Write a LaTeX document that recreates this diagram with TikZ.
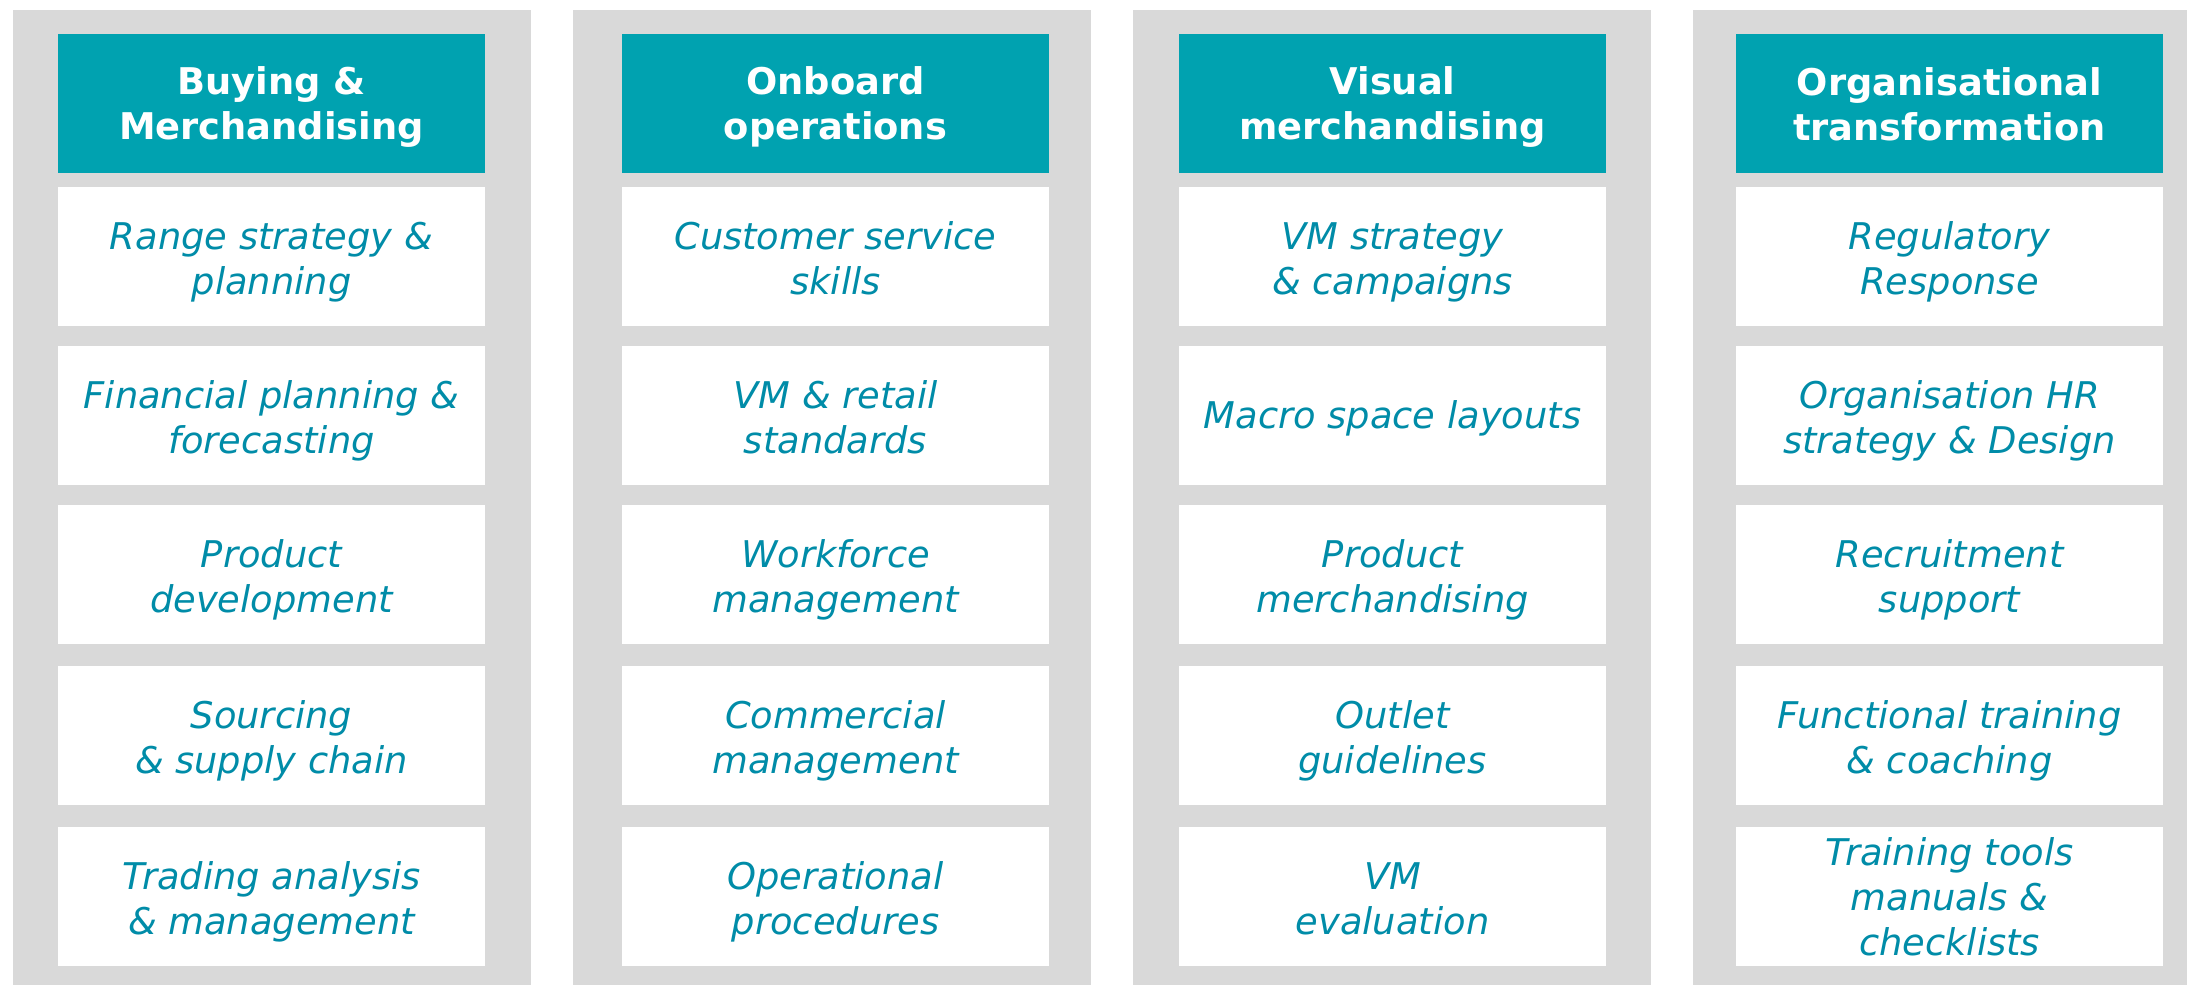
\documentclass[tikz,border=0pt]{standalone}
\usepackage{fontspec}
\setmainfont{DejaVu Sans}
\definecolor{headteal}{RGB}{0,162,176}
\definecolor{panelgray}{RGB}{217,217,217}
\definecolor{itemtext}{RGB}{0,140,168}
\begin{document}
\begin{tikzpicture}[x=0.5pt,y=-0.5pt,
  panel/.style={fill=panelgray, draw=none},
  cellbox/.style={minimum width=213.5pt, minimum height=69.5pt, inner sep=0pt},
  headbox/.style={cellbox, fill=headteal},
  itembox/.style={cellbox, fill=white},
  headlbl/.style={text=white, inner sep=0pt, align=center, font=\fontsize{18.4}{22.5}\selectfont\bfseries},
  itemlbl/.style={text=itemtext, inner sep=0pt, align=center, font=\fontsize{18.4}{22.5}\selectfont\itshape}]
\useasboundingbox (0,0) rectangle (2187,985);
% panels
\fill[panel] (13,10) rectangle (531,985);
\fill[panel] (573,10) rectangle (1091,985);
\fill[panel] (1133,10) rectangle (1651,985);
\fill[panel] (1693,10) rectangle (2187,985);
% column 1
\node[headbox] (h1) at (271.5,103.5) {};
\node[itembox] (a1) at (271.5,256.5) {};
\node[itembox] (a2) at (271.5,415.5) {};
\node[itembox] (a3) at (271.5,574.5) {};
\node[itembox] (a4) at (271.5,735.5) {};
\node[itembox] (a5) at (271.5,896.5) {};
% column 2
\node[headbox] (h2) at (835.5,103.5) {};
\node[itembox] (b1) at (835.5,256.5) {};
\node[itembox] (b2) at (835.5,415.5) {};
\node[itembox] (b3) at (835.5,574.5) {};
\node[itembox] (b4) at (835.5,735.5) {};
\node[itembox] (b5) at (835.5,896.5) {};
% column 3
\node[headbox] (h3) at (1392.5,103.5) {};
\node[itembox] (c1) at (1392.5,256.5) {};
\node[itembox] (c2) at (1392.5,415.5) {};
\node[itembox] (c3) at (1392.5,574.5) {};
\node[itembox] (c4) at (1392.5,735.5) {};
\node[itembox] (c5) at (1392.5,896.5) {};
% column 4
\node[headbox] (h4) at (1949.5,103.5) {};
\node[itembox] (d1) at (1949.5,256.5) {};
\node[itembox] (d2) at (1949.5,415.5) {};
\node[itembox] (d3) at (1949.5,574.5) {};
\node[itembox] (d4) at (1949.5,735.5) {};
\node[itembox] (d5) at (1949.5,896.5) {};
% texts
\node[headlbl] (h1t) at ([yshift=-1.6pt]h1.center) {Buying \&\\Merchandising};
\node[headlbl] (h2t) at ([yshift=-1.6pt]h2.center) {Onboard\\operations};
\node[headlbl] (h3t) at ([yshift=-1.6pt]h3.center) {Visual\\merchandising};
\node[headlbl] (h4t) at ([yshift=-0.5pt]h4.center) {Organisational\\transformation};
\node[itemlbl] (a1t) at ([yshift=-2.8pt]a1.center) {Range strategy \&\\planning};
\node[itemlbl] (a2t) at ([yshift=-2.8pt]a2.center) {Financial planning \&\\forecasting};
\node[itemlbl] (a3t) at ([yshift=-2.8pt]a3.center) {Product\\development};
\node[itemlbl] (a4t) at ([yshift=-2.8pt]a4.center) {Sourcing\\\& supply chain};
\node[itemlbl] (a5t) at ([yshift=-2.8pt]a5.center) {Trading analysis\\\& management};
\node[itemlbl] (b1t) at ([yshift=-0.8pt]b1.center) {Customer service\\skills};
\node[itemlbl] (b2t) at ([yshift=-0.8pt]b2.center) {VM \& retail\\standards};
\node[itemlbl] (b3t) at ([yshift=-2.8pt]b3.center) {Workforce\\management};
\node[itemlbl] (b4t) at ([yshift=-2.8pt]b4.center) {Commercial\\management};
\node[itemlbl] (b5t) at ([yshift=-2.8pt]b5.center) {Operational\\procedures};
\node[itemlbl] (c1t) at ([yshift=-2.8pt]c1.center) {VM strategy\\\& campaigns};
\node[itemlbl] (c2t) at ([yshift=-1.4pt]c2.center) {Macro space layouts};
\node[itemlbl] (c3t) at ([yshift=-2.8pt]c3.center) {Product\\merchandising};
\node[itemlbl] (c4t) at ([yshift=-2.8pt]c4.center) {Outlet\\guidelines};
\node[itemlbl] (c5t) at ([yshift=-1.2pt]c5.center) {VM\\evaluation};
\node[itemlbl] (d1t) at ([yshift=-2.8pt]d1.center) {Regulatory\\Response};
\node[itemlbl] (d2t) at ([yshift=-2.8pt]d2.center) {Organisation HR\\strategy \& Design};
\node[itemlbl] (d3t) at ([yshift=-2.8pt]d3.center) {Recruitment\\support};
\node[itemlbl] (d4t) at ([yshift=-2.8pt]d4.center) {Functional training\\\& coaching};
\node[itemlbl] (d5t) at (d5.center) {Training tools\\manuals \&\\checklists};
\end{tikzpicture}
\end{document}
